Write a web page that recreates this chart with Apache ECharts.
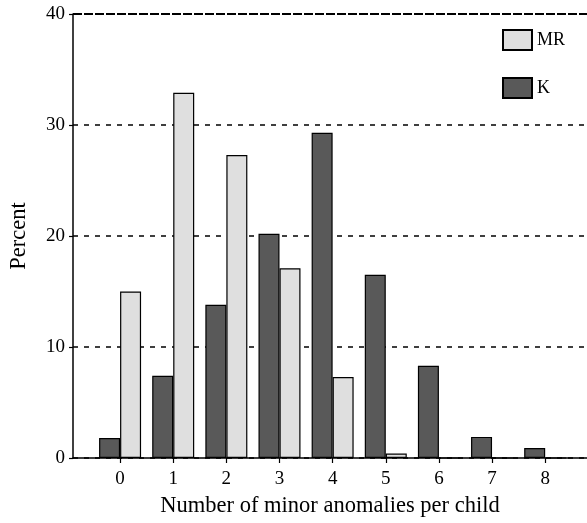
<!DOCTYPE html>
<html>
<head>
<meta charset="utf-8">
<script src="https://cdn.jsdelivr.net/npm/echarts@6/dist/echarts.min.js"></script>
<style>
html,body{margin:0;padding:0;background:#fff;}
#chart{width:587px;height:523px;}
</style>
</head>
<body>
<div id="chart"></div>
<script>
var categories = [0, 1, 2, 3, 4, 5, 6, 7, 8];
var kValues = [1.8, 7.4, 13.8, 20.2, 29.3, 16.5, 8.3, 1.9, 0.9];
var mrValues = [15.0, 32.9, 27.3, 17.1, 7.3, 0.4, 0, 0, 0];
var yTicks = [0, 10, 20, 30, 40];

var font = 'Liberation Serif';
function pairs(vals) { return categories.map(function (c, i) { return [c, vals[i]]; }); }

var chart = echarts.init(document.getElementById('chart'));
chart.setOption({
  animation: false,
  backgroundColor: '#fff',
  textStyle: { fontFamily: font, color: '#000' },
  grid: { left: 70, right: 0, top: 14, bottom: 59 },
  legend: {
    orient: 'vertical', left: 502, top: 29, padding: 0,
    itemWidth: 29, itemHeight: 20, itemGap: 26,
    icon: 'rect',
    data: ['MR', 'K'],
    textStyle: { fontFamily: font, fontSize: 18, color: '#000' }
  },
  xAxis: {
    type: 'value', min: -0.886, max: 8.787,
    name: 'Number of minor anomalies per child',
    nameLocation: 'middle', nameGap: 37,
    nameTextStyle: { fontFamily: font, fontSize: 22.5, color: '#000' },
    axisLine: { show: true, onZero: false, lineStyle: { color: '#000', width: 1.5 } },
    axisTick: { show: true, length: 5, customValues: categories, lineStyle: { color: '#000', width: 1.2 } },
    axisLabel: { customValues: categories, fontFamily: font, fontSize: 19, color: '#000', margin: 12 },
    splitLine: { show: false }
  },
  yAxis: {
    type: 'value', min: 0, max: 40, interval: 10,
    name: 'Percent', nameLocation: 'middle', nameGap: 42,
    nameTextStyle: { fontFamily: font, fontSize: 22.5, color: '#000' },
    axisLine: { show: true, onZero: false, lineStyle: { color: '#000', width: 1.5 } },
    axisTick: { show: true, length: 4, lineStyle: { color: '#000', width: 1.2 } },
    axisLabel: { fontFamily: font, fontSize: 19, color: '#000', margin: 8,
      customValues: yTicks },
    splitLine: { show: true, lineStyle: { color: '#000', type: [5, 6], width: 1.5 } }
  },
  series: [
    {
      name: 'K', type: 'bar', barWidth: 21, barGap: 0,
      data: pairs(kValues),
      itemStyle: { color: '#595959', borderColor: '#000', borderWidth: 1.2 },
      markLine: {
        silent: true, symbol: 'none', label: { show: false },
        lineStyle: { color: '#000', type: [9, 2], width: 2 },
        data: [{ yAxis: 40 }]
      }
    },
    {
      name: 'MR', type: 'bar', barWidth: 21, barGap: 0,
      data: pairs(mrValues),
      itemStyle: { color: '#dfdfdf', borderColor: '#000', borderWidth: 1.2 }
    }
  ]
});
</script>
</body>
</html>
